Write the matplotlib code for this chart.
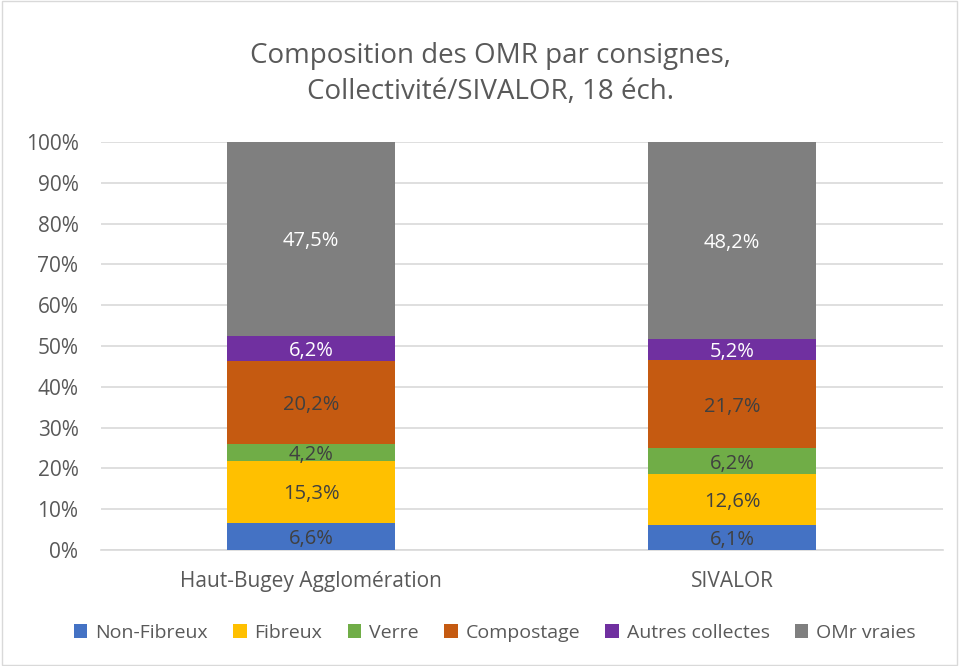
import matplotlib
matplotlib.use("Agg")
import matplotlib.pyplot as plt
from matplotlib.patches import Rectangle
import numpy as np

categories = ["Haut-Bugey Agglomération", "SIVALOR"]
series_names = ["Non-Fibreux", "Fibreux", "Verre", "Compostage", "Autres collectes", "OMr vraies"]
non_fibreux = [6.6, 6.1]
fibreux = [15.3, 12.6]
verre = [4.2, 6.2]
compostage = [20.2, 21.7]
autres = [6.2, 5.2]
omr_vraies = [47.5, 48.2]
series_values = [non_fibreux, fibreux, verre, compostage, autres, omr_vraies]
colors = ["#4472C4", "#FFC000", "#70AD47", "#C55A11", "#7030A0", "#7F7F7F"]
label_colors = ["#404040", "#404040", "#404040", "#404040", "white", "white"]

plt.rcParams['font.family'] = ['Open Sans', 'DejaVu Sans']

fig = plt.figure(figsize=(9.59, 6.66), dpi=100)
fig.patches.append(Rectangle((0.002, 0.002), 0.996, 0.996, transform=fig.transFigure,
                             fill=False, edgecolor="#D9D9D9", linewidth=1))
ax = fig.add_axes([0.105, 0.174, 0.878, 0.613])

x = np.arange(len(categories))
bottom = np.zeros(len(categories))
handles = []
for name, vals, c, lc in zip(series_names, series_values, colors, label_colors):
    vals = np.array(vals)
    b = ax.bar(x, vals, 0.4, bottom=bottom, color=c, label=name, zorder=3)
    handles.append(b)
    for xi, v, bt in zip(x, vals, bottom):
        ax.text(xi, bt + v / 2, f"{v:.1f}%".replace(".", ","), ha="center", va="center_baseline",
                color=lc, fontsize=14.5, zorder=4)
    bottom += vals

ax.set_xlim(-0.5, 1.5)
ax.set_ylim(0, 100)
ax.set_yticks(np.arange(0, 101, 10))
ax.set_yticklabels([f"{v}%" for v in range(0, 101, 10)])
ax.set_xticks(x)
ax.set_xticklabels(categories)
ax.tick_params(axis="both", length=0, labelsize=15, labelcolor="#595959")
ax.tick_params(axis="x", pad=15)
ax.tick_params(axis="y", pad=16)
ax.yaxis.grid(True, color="#D9D9D9", linewidth=1.2, zorder=0)
for s in ["top", "right", "left"]:
    ax.spines[s].set_visible(False)
ax.spines["bottom"].set_color("#D9D9D9")
ax.spines["bottom"].set_linewidth(1.2)

fig.text(0.511, 0.889, "Composition des OMR par consignes,\nCollectivité/SIVALOR, 18 éch.",
         ha="center", va="center", fontsize=20, color="#595959", linespacing=1.42)

fig.legend(handles=handles, labels=series_names, loc="center", bbox_to_anchor=(0.516, 0.05),
           ncol=6, frameon=False, fontsize=14, labelcolor="#595959",
           handlelength=0.7, handleheight=0.7, handletextpad=0.4, columnspacing=1.3)

fig.savefig("out.png", dpi=100)
